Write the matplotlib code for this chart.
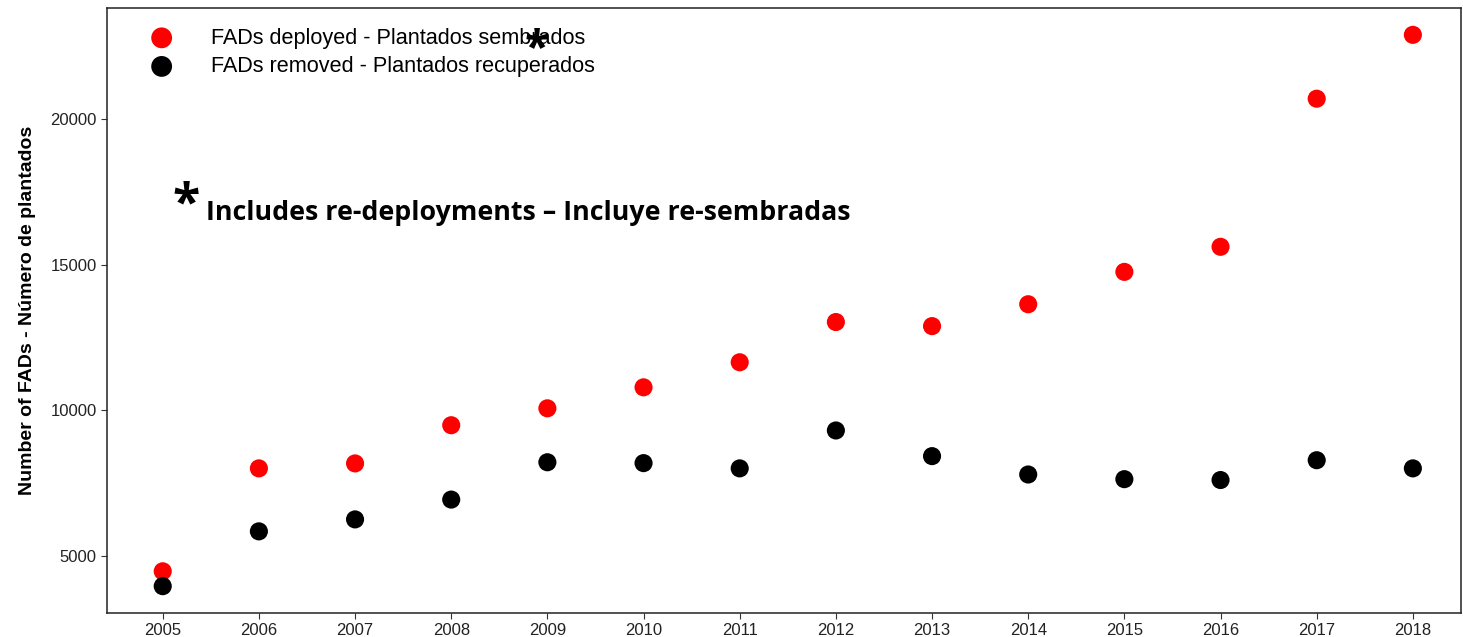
import matplotlib.pyplot as plt
import numpy as np

plt.rcParams['font.family'] = ['Liberation Sans', 'DejaVu Sans']

# Data
years = [2005, 2006, 2007, 2008, 2009, 2010, 2011, 2012, 2013, 2014, 2015, 2016, 2017, 2018]
deployed = [4480, 8010, 8180, 9490, 10070, 10790, 11650, 13030, 12890, 13640, 14750, 15610, 20690, 22880]
removed = [3970, 5850, 6260, 6940, 8220, 8190, 8010, 9310, 8430, 7800, 7640, 7610, 8290, 8010]

fig = plt.figure(figsize=(14.63, 6.37), dpi=100)
ax = fig.add_axes([0.0731, 0.0377, 0.9255, 0.9497])

ax.scatter(years, deployed, s=170, color='#ff0000', edgecolors='none', zorder=3,
           label='FADs deployed - Plantados sembrados')
ax.scatter(years, removed, s=170, color='black', edgecolors='none', zorder=3,
           label='FADs removed - Plantados recuperados')

ax.set_xlim(2004.42, 2018.5)
ax.set_ylim(3050, 23800)
ax.set_xticks(years)
ax.set_yticks([5000, 10000, 15000, 20000])
ax.tick_params(labelsize=12, colors='#333333', length=4, width=0.8)
ax.tick_params(axis='both', labelcolor='#222222')
for sp in ax.spines.values():
    sp.set_linewidth(1.1)
    sp.set_color('#222222')

ax.set_ylabel('Number of FADs - Número de plantados', fontsize=14, fontweight='bold', labelpad=10)

leg = ax.legend(loc='upper left', bbox_to_anchor=(0.01, 1.0), frameon=False, fontsize=15.6,
                handletextpad=1.3, labelspacing=0.35, borderaxespad=0.5, markerscale=1.15)

# asterisk over the legend text
fig.text(537 / 1463, 1 - 50 / 637, '*', fontsize=32, fontweight='bold', ha='center', va='center',
         family=['Open Sans', 'DejaVu Sans'])

# footnote
fig.text(186 / 1463, 1 - 205 / 637, '*', fontsize=36, fontweight='bold', ha='center', va='center',
         family=['Open Sans', 'DejaVu Sans'])
fig.text(206 / 1463, 1 - 213 / 637, 'Includes re-deployments – Incluye re-sembradas', fontsize=19.3,
         fontweight='bold', ha='left', va='center', family=['Open Sans', 'DejaVu Sans'])

fig.savefig('out.png', dpi=100)
